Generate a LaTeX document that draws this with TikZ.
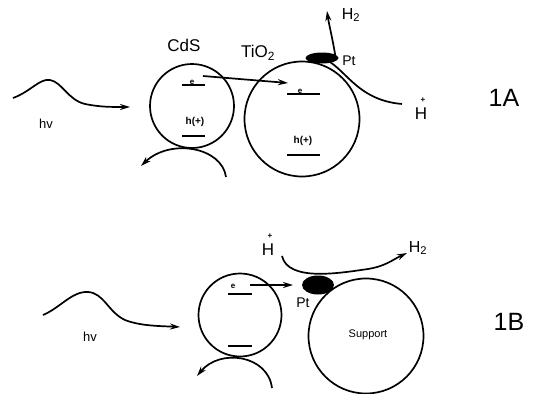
\documentclass[tikz,border=0pt]{standalone}
\usepackage{fontspec}
\setmainfont{Liberation Sans}
\usetikzlibrary{arrows.meta,shapes.geometric}
\begin{document}
\begin{tikzpicture}[x=1pt,y=-1pt,line width=1.7pt,
  >={Stealth[length=10pt,width=6pt]},
  particle/.style={circle,draw,inner sep=0pt},
  level/.style={line width=1.8pt},
  tiny/.style={font=\bfseries\fontsize{8}{9}\selectfont,inner sep=0pt},
  lbl/.style={inner sep=0pt},
  ptcap/.style={ellipse,fill=black,inner sep=0pt}]
\useasboundingbox (0,0) rectangle (539,394);

% ---------- 1A: CdS coupled to TiO2 with Pt ----------
% incoming light
\coordinate (hvA0) at (13,98);
\coordinate (hvA1) at (130,107);
\draw[->] (hvA0) .. controls (30,92) and (40,78) .. (50,80)
  .. controls (62,82) and (68,100) .. (85,104) .. controls (100,107) and (110,107) .. (hvA1);
\node[lbl,font=\fontsize{13}{15}\selectfont] (hvA) at (46,124) {hv};

% CdS particle
\node[particle,minimum size=84pt] (cdsA) at (192,106) {};
\node[lbl,font=\fontsize{17}{19}\selectfont] (cdsLbl) at (184,45) {CdS};
\coordinate (cdsAe1) at (182,85);
\coordinate (cdsAe2) at (205,85);
\draw[level] (cdsAe1) -- (cdsAe2);
\node[tiny,anchor=south] (cdsAe) at (192,85) {e};
\coordinate (cdsAh1) at (182,136);
\coordinate (cdsAh2) at (205,136);
\draw[level] (cdsAh1) -- (cdsAh2);
\node[lbl,font=\bfseries\fontsize{10}{12}\selectfont] (cdsAh) at (195,122) {h(+)};

% hole transfer to the particle below
\coordinate (holeA0) at (226,177);
\coordinate (holeA1) at (141,166);
\draw[->] (holeA0) .. controls (222,147) and (170,138) .. (holeA1);

% TiO2 particle
\node[particle,minimum size=115pt] (tioA) at (302,119) {};
\node[lbl,font=\fontsize{17}{19}\selectfont] (tioLbl) at (258,53) {TiO\textsubscript{2}};
\coordinate (tioAe1) at (287,94);
\coordinate (tioAe2) at (320,94);
\draw[level] (tioAe1) -- (tioAe2);
\node[tiny,anchor=south] (tioAe) at (300,94) {e};
\coordinate (tioAh1) at (287,155);
\coordinate (tioAh2) at (320,155);
\draw[level] (tioAh1) -- (tioAh2);
\node[lbl,font=\bfseries\fontsize{10}{12}\selectfont] (tioAh) at (303,141) {h(+)};

% electron injection CdS -> TiO2
\coordinate (injA0) at (203,76);
\coordinate (injA1) at (288,83);
\draw[->] (injA0) -- (injA1);

% Pt deposit and H+ reduction
\node[ptcap,minimum width=33pt,minimum height=11pt] (ptA) at (322,58) {};
\node[lbl,font=\fontsize{14}{16}\selectfont] (ptALbl) at (349,61) {Pt};
\coordinate (hpA) at (402,104);
\draw (ptA.center) .. controls (345,66) and (355,100) .. (hpA);
\coordinate (h2A) at (327,11);
\draw[->] (336,60) .. controls (333,40) and (329,25) .. (h2A);
\node[lbl,font=\fontsize{16}{18}\selectfont] (h2ALbl) at (351,15) {H\textsubscript{2}};
\node[lbl,font=\fontsize{17}{19}\selectfont] (hpALbl) at (421,114) {H};
\node[lbl,font=\bfseries\fontsize{8}{9}\selectfont] (hpASup) at (423,100) {+};
\node[lbl,font=\fontsize{25}{28}\selectfont] (tagA) at (504,98) {1A};

% ---------- 1B: CdS with Pt on an inert support ----------
\coordinate (hvB0) at (43,315);
\coordinate (hvB1) at (180,327);
\draw[->] (hvB0) .. controls (60,308) and (72,291) .. (88,292)
  .. controls (104,293) and (108,312) .. (125,320) .. controls (140,326) and (160,326) .. (hvB1);
\node[lbl,font=\fontsize{13}{15}\selectfont] (hvB) at (90,337) {hv};

% CdS particle
\node[particle,minimum size=83pt] (cdsB) at (240,315) {};
\coordinate (cdsBe1) at (228,294);
\coordinate (cdsBe2) at (252,294);
\draw[level] (cdsBe1) -- (cdsBe2);
\node[tiny,anchor=south] (cdsBe) at (233,289) {e};
\coordinate (cdsBh1) at (228,346);
\coordinate (cdsBh2) at (252,346);
\draw[level] (cdsBh1) -- (cdsBh2);

% hole transfer to the particle below
\coordinate (holeB0) at (272,388);
\coordinate (holeB1) at (197,376);
\draw[->] (holeB0) .. controls (268,355) and (220,348) .. (holeB1);

% electron transfer CdS -> Pt
\coordinate (injB0) at (250,285);
\coordinate (injB1) at (293,285);
\draw[->] (injB0) -- (injB1);

% support particle and Pt
\node[particle,minimum size=115pt] (sup) at (366,336) {};
\node[lbl,font=\fontsize{11}{13}\selectfont] (supLbl) at (368,335) {Support};
\node[ptcap,minimum width=32pt,minimum height=19pt] (ptB) at (318,285) {};
\node[lbl,font=\fontsize{14}{16}\selectfont] (ptBLbl) at (303,303) {Pt};

% H+ reduction to H2
\coordinate (hpB) at (282,256);
\coordinate (h2B) at (407,253);
\draw[->] (hpB) .. controls (288,282) and (340,273) .. (368,269)
  .. controls (386,266) and (392,260) .. (h2B);
\node[lbl,font=\fontsize{17}{19}\selectfont] (hpBLbl) at (268,250) {H};
\node[lbl,font=\bfseries\fontsize{8}{9}\selectfont] (hpBSup) at (270,236) {+};
\node[lbl,font=\fontsize{16}{18}\selectfont] (h2BLbl) at (418,248) {H\textsubscript{2}};
\node[lbl,font=\fontsize{25}{28}\selectfont] (tagB) at (509,322) {1B};
\end{tikzpicture}
\end{document}
